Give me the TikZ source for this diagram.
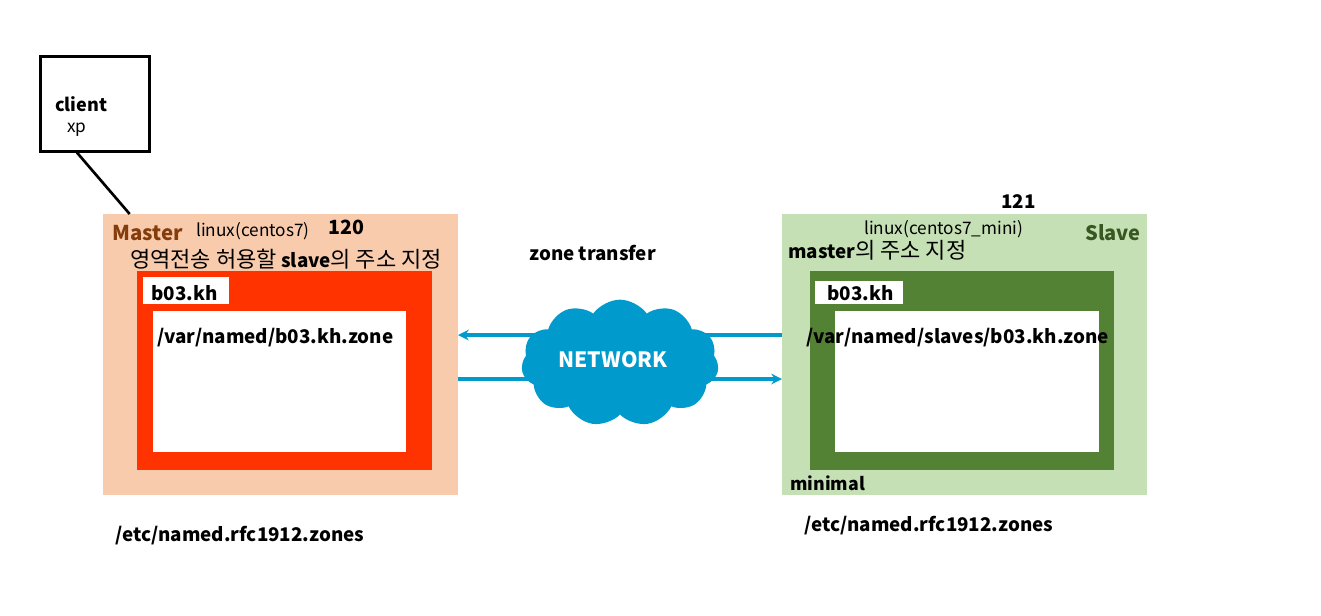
\documentclass[tikz,border=0pt]{standalone}
\usepackage{fontspec}
\setmainfont{Noto Sans CJK KR}
\usepackage{tikz}
\usetikzlibrary{shapes.symbols, arrows.meta, positioning, calc}
\definecolor{masterbg}{HTML}{F8CBAD}
\definecolor{masterred}{HTML}{FF3300}
\definecolor{masterfg}{HTML}{843C0C}
\definecolor{slavebg}{HTML}{C5E0B4}
\definecolor{slavegreen}{HTML}{548235}
\definecolor{slavefg}{HTML}{385723}
\definecolor{netblue}{HTML}{009ACD}
\newcommand{\kor}[1]{{\fontsize{16.5}{18}\selectfont\mdseries #1}}

\begin{document}
\begin{tikzpicture}[
        x=0.75pt, y=-0.75pt,
        area/.style={minimum width=#1, inner sep=0pt, outer sep=0pt, anchor=north west},
        lbl/.style={font=\fontsize{14.1}{16}\selectfont\bfseries, anchor=west, inner sep=0pt},
        thin lbl/.style={font=\fontsize{12.9}{15}\selectfont, anchor=west, inner sep=0pt},
        arr/.style={-{Stealth[length=8pt,width=8pt]}, line width=3pt, draw=netblue}
    ]
        \useasboundingbox (0,0) rectangle (1321,615);
        % client
        \node[draw, line width=2.2pt, minimum width=82pt, minimum height=71pt, inner sep=0pt, anchor=north west] (client) at (39,55) {};
        \node[lbl, font=\fontsize{13.5}{15}\selectfont\bfseries] (clientname) at (55,104) {client};
        \node[thin lbl] (clientos) at (67,130) {xp};
        % master side
        \node[area=266.25pt, minimum height=210.75pt, fill=masterbg] (master) at (103,214) {};
        \node[area=221.25pt, minimum height=149.25pt, fill=masterred] (masterzone) at (137,271) {};
        \node[area=64.5pt, minimum height=20.25pt, fill=white] (mastertab) at (143,277) {};
        \node[area=189.75pt, minimum height=105.75pt, fill=white] (masterfile) at (153,311) {};
        % slave side
        \node[area=273.75pt, minimum height=210.75pt, fill=slavebg] (slave) at (782,214) {};
        \node[area=228pt, minimum height=149.25pt, fill=slavegreen] (slavezone) at (810,271) {};
        \node[area=66pt, minimum height=17.25pt, fill=white] (slavetab) at (815,281) {};
        \node[area=198pt, minimum height=105.75pt, fill=white] (slavefile) at (835,311) {};
        % links
        \draw[line width=2pt] ([xshift=28.5pt]client.south west) -- ([xshift=20pt]master.north west);
        \draw[arr] ([yshift=14.6pt]slave.west) -- ([yshift=14.6pt]master.east);
        \draw[arr] ([yshift=-18.4pt]master.east) -- ([yshift=-18.4pt]slave.west);
        \node[cloud, cloud puffs=11, cloud puff arc=110, aspect=1.6, fill=netblue, minimum width=148pt, minimum height=95pt, inner sep=0pt] (network) at (620,363) {};
        \node[inner sep=0pt, text=white, font=\fontsize{15.8}{18}\selectfont\bfseries] (networkname) at (613,360) {NETWORK};
        % master labels
        \node[lbl, font=\fontsize{15.3}{17}\selectfont\bfseries, text=masterfg] (mastername) at (112,233) {Master};
        \node[thin lbl] (masteros) at (196,231) {linux(centos7)};
        \node[lbl, font=\fontsize{14.7}{16}\selectfont\bfseries] (masterip) at (328,227) {120};
        \node[lbl] (masternote) at (130,259) {\kor{영역전송 허용할} slave\kor{의 주소 지정}};
        \node[lbl] (mastertabname) at (151,293) {b03.kh};
        \node[lbl] (masterpath) at (157,338) {/var/named/b03.kh.zone};
        \node[lbl] (masterrfc) at (115,536) {/etc/named.rfc1912.zones};
        % slave labels
        \node[lbl] (slaveip) at (1001,202) {121};
        \node[thin lbl] (slaveos) at (864,229) {linux(centos7\_mini)};
        \node[lbl, font=\fontsize{15}{17}\selectfont\bfseries, text=slavefg] (slavename) at (1085,233) {Slave};
        \node[lbl] (slavenote) at (788,250) {master\kor{의 주소 지정}};
        \node[lbl] (slavetabname) at (827,293) {b03.kh};
        \node[lbl] (slavepath) at (806,338) {/var/named/slaves/b03.kh.zone};
        \node[lbl, font=\fontsize{13.3}{15}\selectfont\bfseries] (slavemin) at (790,483) {minimal};
        \node[lbl] (slaverfc) at (804,526) {/etc/named.rfc1912.zones};
        % network label
        \node[lbl] (transfer) at (529,253) {zone transfer};
    \end{tikzpicture}
\end{document}
